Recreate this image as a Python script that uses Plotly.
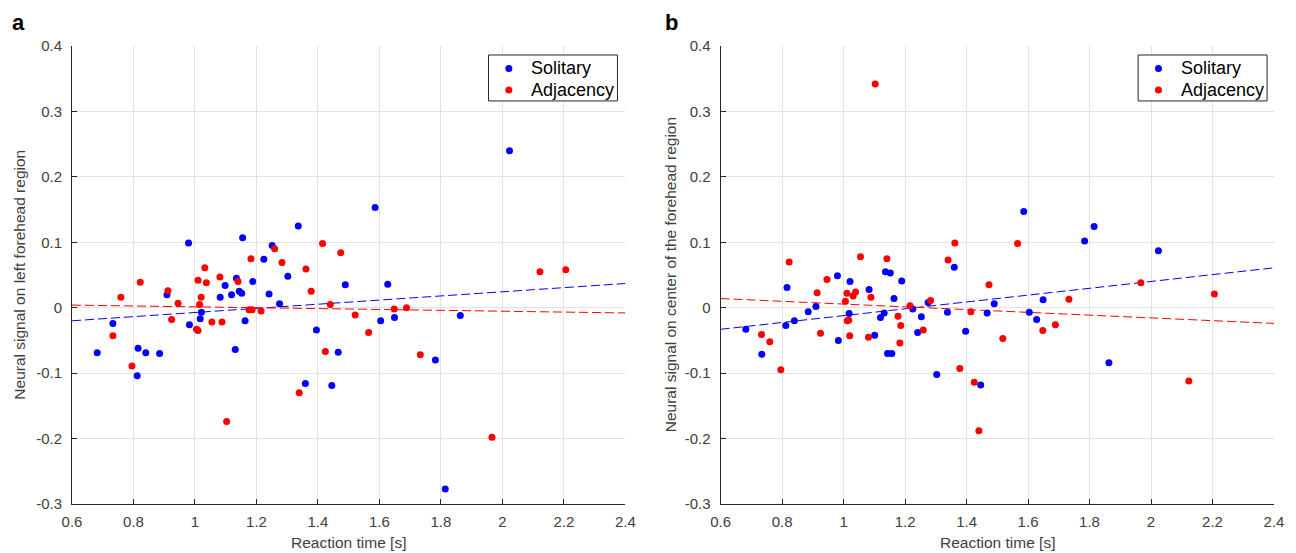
import plotly.graph_objects as go

# ---- data ----
# panel a: neural signal on left forehead region
rt_a_solitary = [0.682, 0.733, 0.815, 0.812, 0.840, 0.885, 0.909, 0.979, 0.982, 1.021,
                 1.017, 1.131, 1.082, 1.098, 1.119, 1.135, 1.144, 1.152, 1.155, 1.163,
                 1.188, 1.224, 1.241, 1.251, 1.275, 1.302, 1.336, 1.395, 1.359, 1.445,
                 1.466, 1.489, 1.586, 1.627, 1.604, 1.649, 1.782, 1.814, 1.863, 2.023]
sig_a_solitary = [-0.069, -0.024, -0.062, -0.104, -0.069, -0.070, 0.020, 0.099, -0.026, -0.007,
                  -0.017, -0.064, 0.016, 0.034, 0.020, 0.045, 0.025, 0.022, 0.107, -0.020,
                  0.040, 0.074, 0.021, 0.095, 0.006, 0.048, 0.125, -0.034, -0.116, -0.119,
                  -0.068, 0.035, 0.153, 0.036, -0.020, -0.015, -0.080, -0.277, -0.012, 0.240]
rt_a_adjacency = [0.733, 0.759, 0.795, 0.822, 0.912, 0.924, 0.945, 1.010, 1.015, 1.020,
                  1.005, 1.010, 1.032, 1.037, 1.055, 1.081, 1.088, 1.103, 1.140, 1.182,
                  1.176, 1.186, 1.215, 1.259, 1.283, 1.339, 1.361, 1.378, 1.415, 1.424,
                  1.440, 1.474, 1.521, 1.565, 1.648, 1.688, 1.733, 1.966, 2.122, 2.206]
sig_a_adjacency = [-0.043, 0.016, -0.089, 0.039, 0.026, -0.018, 0.007, 0.042, 0.005, 0.016,
                   -0.033, -0.035, 0.061, 0.038, -0.022, 0.047, -0.022, -0.174, 0.040, 0.075,
                   -0.003, -0.003, -0.005, 0.090, 0.069, -0.130, 0.059, 0.025, 0.098, -0.067,
                   0.005, 0.084, -0.011, -0.038, -0.002, 0.000, -0.072, -0.198, 0.055, 0.058]

# panel b: neural signal on center of the forehead region
rt_b_solitary = [0.682, 0.734, 0.816, 0.812, 0.840, 0.885, 0.910, 0.980, 0.983, 1.021,
                 1.018, 1.083, 1.101, 1.120, 1.132, 1.136, 1.152, 1.143, 1.157, 1.164,
                 1.189, 1.225, 1.241, 1.253, 1.275, 1.303, 1.338, 1.360, 1.397, 1.446,
                 1.467, 1.490, 1.586, 1.604, 1.628, 1.649, 1.784, 1.815, 1.863, 2.024]
sig_b_solitary = [-0.033, -0.071, 0.031, -0.027, -0.020, -0.006, 0.002, 0.049, -0.050, 0.040,
                  -0.009, 0.028, -0.042, -0.015, -0.008, 0.055, 0.053, -0.070, -0.070, 0.014,
                  0.041, -0.002, -0.038, -0.014, 0.008, -0.102, -0.007, 0.062, -0.036, -0.118,
                  -0.008, 0.006, 0.147, -0.007, -0.018, 0.012, 0.102, 0.124, -0.084, 0.087]
rt_b_adjacency = [0.733, 0.760, 0.796, 0.823, 0.914, 0.925, 0.946, 1.006, 1.011, 1.012,
                  1.017, 1.020, 1.031, 1.039, 1.055, 1.081, 1.089, 1.103, 1.141, 1.177,
                  1.186, 1.183, 1.216, 1.259, 1.283, 1.340, 1.362, 1.378, 1.414, 1.425,
                  1.440, 1.473, 1.518, 1.566, 1.648, 1.689, 1.733, 1.967, 2.123, 2.206]
sig_b_adjacency = [-0.041, -0.052, -0.095, 0.070, 0.023, -0.039, 0.043, 0.010, 0.022, -0.020,
                   -0.019, -0.043, 0.018, 0.024, 0.078, -0.045, 0.016, 0.342, 0.075, -0.013,
                   -0.027, -0.054, 0.003, -0.034, 0.011, 0.073, 0.099, -0.093, -0.006, -0.114,
                   -0.188, 0.035, -0.047, 0.098, -0.035, -0.026, 0.013, 0.038, -0.112, 0.021]

# linear fit lines (values at the ends of the x range)
fit_x = [0.6, 2.4]
fit_a_solitary = [-0.020, 0.037]
fit_a_adjacency = [0.004, -0.008]
fit_b_solitary = [-0.033, 0.061]
fit_b_adjacency = [0.014, -0.024]

x_ticks = [0.6, 0.8, 1.0, 1.2, 1.4, 1.6, 1.8, 2.0, 2.2, 2.4]
x_ticktext = ['0.6', '0.8', '1', '1.2', '1.4', '1.6', '1.8', '2', '2.2', '2.4']
y_ticks = [-0.3, -0.2, -0.1, 0, 0.1, 0.2, 0.3, 0.4]
y_ticktext = ['-0.3', '-0.2', '-0.1', '0', '0.1', '0.2', '0.3', '0.4']

legend_names = ['Solitary', 'Adjacency']

BLUE = '#0000ff'
RED = '#ff0000'
FONT = 'Liberation Sans, Arial, sans-serif'
TXT = '#404040'

# figure fills the whole window (body margin removed below)
W, H = 1296, 553
ML, MT = 71.5, 46
MR = W - 1283.5
MB = H - 504.5
PW, PH = W - ML - MR, H - MT - MB


def px_x(px):
    # screen pixel -> paper coordinate
    return (px - ML) / PW


def px_y(py):
    return (H - MB - py) / PH


fig = go.Figure()

panels = [
    ('x', 'y', rt_a_solitary, sig_a_solitary, rt_a_adjacency, sig_a_adjacency,
     fit_a_solitary, fit_a_adjacency),
    ('x2', 'y2', rt_b_solitary, sig_b_solitary, rt_b_adjacency, sig_b_adjacency,
     fit_b_solitary, fit_b_adjacency),
]

for xa, ya, xs, ys, xr, yr, fs, fa in panels:
    # fit lines first so the dots sit on top
    fig.add_trace(go.Scatter(x=fit_x, y=fs, mode='lines', xaxis=xa, yaxis=ya,
                             line=dict(color=BLUE, width=1, dash='9px,4px'),
                             showlegend=False, hoverinfo='skip'))
    fig.add_trace(go.Scatter(x=fit_x, y=fa, mode='lines', xaxis=xa, yaxis=ya,
                             line=dict(color=RED, width=1, dash='9px,4px'),
                             showlegend=False, hoverinfo='skip'))
    fig.add_trace(go.Scatter(x=xs, y=ys, mode='markers', name=legend_names[0], xaxis=xa, yaxis=ya,
                             marker=dict(color=BLUE, size=7), showlegend=False))
    fig.add_trace(go.Scatter(x=xr, y=yr, mode='markers', name=legend_names[1], xaxis=xa, yaxis=ya,
                             marker=dict(color=RED, size=7), showlegend=False))

axis_common = dict(
    showgrid=True, gridcolor='#e3e3e3', gridwidth=1,
    zeroline=False,
    showline=True, linecolor='#262626', linewidth=1,
    ticks='inside', ticklen=5, tickcolor='#262626', tickwidth=1,
    tickfont=dict(family=FONT, size=15, color=TXT),
)

x_dom_a = [px_x(71.5), px_x(629.5)]
x_dom_b = [px_x(725.5), px_x(1283.5)]

fig.update_layout(
    width=W, height=H,
    margin=dict(l=ML, r=MR, t=MT, b=MB),
    paper_bgcolor='white', plot_bgcolor='white',
    font=dict(family=FONT),
    showlegend=False,
    xaxis=dict(domain=x_dom_a, range=[0.6, 2.4], tickvals=x_ticks, ticktext=x_ticktext,
               anchor='y', ticklabelstandoff=4, **axis_common),
    yaxis=dict(domain=[0, 1], range=[-0.3, 0.4], tickvals=y_ticks, ticktext=y_ticktext,
               anchor='x', ticklabelstandoff=6, **axis_common),
    xaxis2=dict(domain=x_dom_b, range=[0.6, 2.4], tickvals=x_ticks, ticktext=x_ticktext,
                anchor='y2', ticklabelstandoff=4, **axis_common),
    yaxis2=dict(domain=[0, 1], range=[-0.3, 0.4], tickvals=y_ticks, ticktext=y_ticktext,
                anchor='x2', ticklabelstandoff=6, **axis_common),
)

annotations = [
    dict(text='<b>a</b>', x=px_x(18), y=px_y(22), font=dict(size=22, color='black')),
    dict(text='<b>b</b>', x=px_x(676), y=px_y(22), font=dict(size=22, color='black')),
    dict(text='Reaction time [s]', x=px_x(350.5), y=px_y(543), font=dict(size=15.5, color=TXT)),
    dict(text='Reaction time [s]', x=px_x(1004.5), y=px_y(543), font=dict(size=15.5, color=TXT)),
    dict(text='Neural signal on left forehead region', x=px_x(19), y=px_y(275),
         textangle=-90, font=dict(size=15.5, color=TXT)),
    dict(text='Neural signal on center of the forehead region', x=px_x(675), y=px_y(275),
         textangle=-90, font=dict(size=15.5, color=TXT)),
]

# MATLAB-style legend box in each panel
shapes = []
for left in (491.5, 1146.5):
    shapes.append(dict(type='rect', xref='paper', yref='paper',
                       x0=px_x(left), x1=px_x(left + 130), y0=px_y(101), y1=px_y(55),
                       line=dict(color='#262626', width=1), fillcolor='white', layer='above'))
    for row, (name, color) in enumerate(zip(legend_names, [BLUE, RED])):
        cy = 68.5 + row * 21.5
        shapes.append(dict(type='circle', xref='paper', yref='paper',
                           xsizemode='pixel', ysizemode='pixel',
                           xanchor=px_x(left + 20.5), yanchor=px_y(cy),
                           x0=-3.5, x1=3.5, y0=-3.5, y1=3.5,
                           line=dict(width=0), fillcolor=color, layer='above'))
        annotations.append(dict(text=name, x=px_x(left + 41), y=px_y(cy), xanchor='left',
                                font=dict(size=18, color='black')))

for a in annotations:
    a.setdefault('xanchor', 'center')
    a.update(xref='paper', yref='paper', showarrow=False, yanchor='middle')
    a['font']['family'] = FONT
fig.update_layout(annotations=annotations, shapes=shapes)

# drop the page's default 8px body margin so the figure sits at the window corner
fig.write_html("out.html", config={'displayModeBar': False},
               post_script="document.body.style.margin='0';document.body.style.overflow='hidden';")
